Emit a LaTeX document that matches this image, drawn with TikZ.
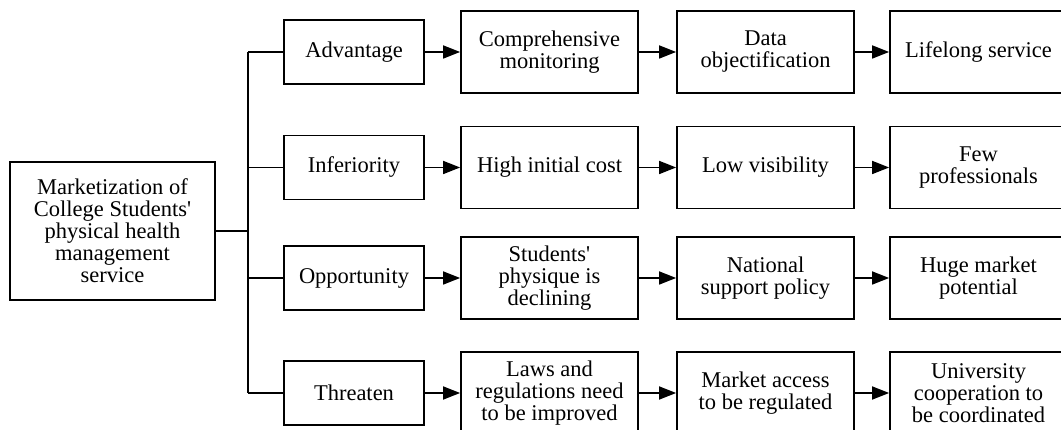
\documentclass[tikz,border=0pt]{standalone}
\usepackage{fontspec}
\setmainfont{Liberation Serif}
\usetikzlibrary{arrows.meta}
\begin{document}
\begin{tikzpicture}[x=1pt,y=-1pt,
		box/.style={draw,line width=1.8pt,align=center,inner sep=0pt,font=\fontsize{22.5}{22}\selectfont},
		root/.style={box,minimum width=205pt,minimum height=138pt},
		cat/.style={box,minimum width=140pt,minimum height=64pt},
		item/.style={box,minimum width=177pt,minimum height=82pt},
		link/.style={line width=1.8pt},
		flow/.style={link,-{Triangle[length=17pt,width=13pt]}}]
				\useasboundingbox (0,0) rectangle (1061,430);
				% root and the four SWOT headings
				\node [root,at={(112.5,231)}] (root) {Marketization of\\College Students\textquotesingle\\physical health\\management\\service};
				\node [cat,at={(354,52)}] (adv) {Advantage};
				\node [cat,at={(354,167.5)}] (inf) {Inferiority};
				\node [cat,at={(354,278)}] (opp) {Opportunity};
				\node [cat,at={(354,393)}] (thr) {Threaten};
				% first column
				\node [item,at={(549.5,52)}] (adv1) {Comprehensive\\monitoring};
				\node [item,at={(549.5,167.5)}] (inf1) {High initial cost};
				\node [item,at={(549.5,278)}] (opp1) {Students\textquotesingle\\physique is\\declining};
				\node [item,at={(549.5,393)}] (thr1) {Laws and\\regulations need\\to be improved};
				% second column
				\node [item,at={(765.5,52)}] (adv2) {Data\\objectification};
				\node [item,at={(765.5,167.5)}] (inf2) {Low visibility};
				\node [item,at={(765.5,278)}] (opp2) {National\\support policy};
				\node [item,at={(765.5,393)}] (thr2) {Market access\\to be regulated};
				% third column
				\node [item,at={(978.5,52)}] (adv3) {Lifelong service};
				\node [item,at={(978.5,167.5)}] (inf3) {Few\\professionals};
				\node [item,at={(978.5,278)}] (opp3) {Huge market\\potential};
				\node [item,at={(978.5,393)}] (thr3) {University\\cooperation to\\be coordinated};
				% bracket from the root
				\coordinate (trunk) at (248,231);
				\draw [link] (root.east)--(trunk);
				\draw [link] (trunk |- adv.west)--(trunk |- thr.west);
				\foreach \c in {adv,inf,opp,thr}{
					\draw [link] (trunk |- \c.west)--(\c.west);
					\draw [flow] (\c.east)--(\c1.west);
					\draw [flow] (\c1.east)--(\c2.west);
					\draw [flow] (\c2.east)--(\c3.west);
				}
				\end{tikzpicture}
\end{document}
